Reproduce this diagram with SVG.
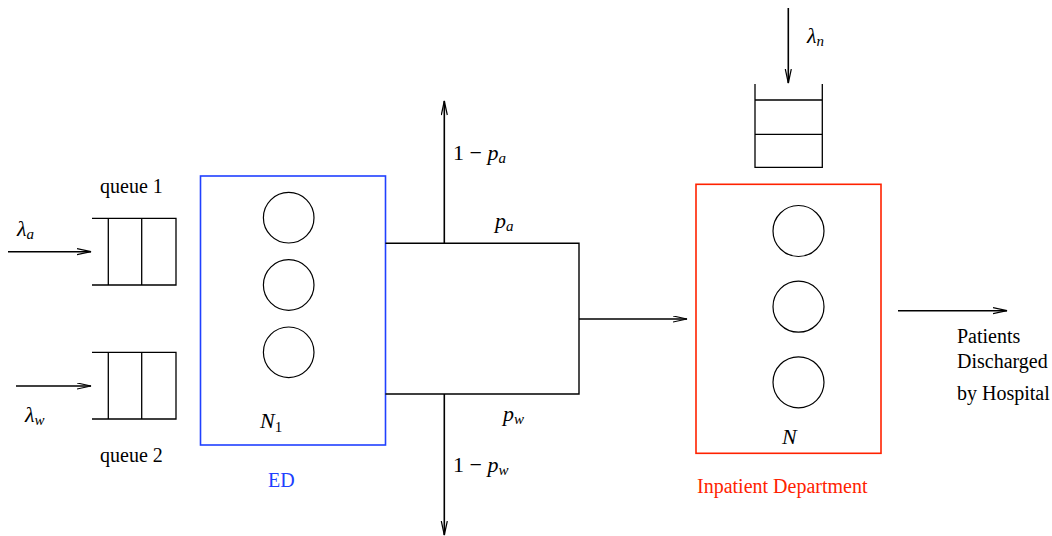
<svg xmlns="http://www.w3.org/2000/svg" width="1052" height="536" viewBox="0 0 1052 536">
<style>
.t{font-family:"Liberation Serif","Times New Roman",serif;font-size:20px;fill:#000}
.m{font-family:"Liberation Serif","Times New Roman",serif;font-size:22px;font-style:italic;fill:#000}
.up{font-style:normal}
.sub{font-size:15px}
.ln{stroke:#000;stroke-width:1.4;fill:none}
.q{stroke:#000;stroke-width:1.3;fill:none}
.srv{stroke:#000;stroke-width:1.2;fill:#fff}
.ar{stroke:#000;stroke-width:1.6;fill:none;marker-end:url(#ah)}
</style>
<defs>
<marker id="ah" markerWidth="16" markerHeight="9" refX="14.5" refY="3.5" orient="auto" markerUnits="userSpaceOnUse">
<path d="M0.5,0.5 L14.5,3.5 L0.5,6.5" fill="none" stroke="#000" stroke-width="1.2"/>
</marker>
</defs>
<rect width="1052" height="536" fill="#fff"/>
<g id="queue1">
<path class="q" d="M92,218.3 H176 V285 H92 M108.3,218.3 V285 M141.7,218.3 V285"/>
<text class="t" x="100" y="193">queue 1</text>
</g>
<g id="queue2">
<path class="q" d="M92,352.3 H176 V419 H92 M108.3,352.3 V419 M141.7,352.3 V419"/>
<text class="t" x="100" y="462">queue 2</text>
</g>
<g id="ED">
<rect x="200.5" y="176" width="185" height="269" fill="none" stroke="#2040ff" stroke-width="1.6"/>
<circle class="srv" cx="288.7" cy="217.7" r="25.3"/>
<circle class="srv" cx="288.7" cy="285" r="25.3"/>
<circle class="srv" cx="288.7" cy="352.3" r="25.3"/>
<text class="m" x="260" y="428">N<tspan class="sub up" dy="4">1</tspan></text>
<text class="t" x="268" y="487" style="fill:#2040ff">ED</text>
</g>
<g id="inpatient-queue">
<path class="q" d="M755,84 V167.3 H822.3 V84 M755,100 H822.3 M755,134.3 H822.3"/>
</g>
<g id="inpatient">
<rect x="696" y="184.3" width="185" height="269" fill="none" stroke="#ff2200" stroke-width="1.6"/>
<circle class="srv" cx="798.5" cy="231" r="25.5"/>
<circle class="srv" cx="798.5" cy="306.7" r="25.5"/>
<circle class="srv" cx="798.5" cy="382.3" r="25.5"/>
<text class="m" x="782" y="444">N</text>
<text class="t" x="697" y="493" style="fill:#ff2200">Inpatient Department</text>
</g>
<g id="discharge">
<text class="t" x="957" y="343">Patients</text>
<text class="t" x="957" y="368">Discharged</text>
<text class="t" x="957" y="400">by Hospital</text>
</g>
<g id="connectors">
<line class="ar" x1="8" y1="251.7" x2="91" y2="251.7"/>
<line class="ar" x1="16" y1="386" x2="91" y2="386"/>
<path class="ln" d="M385.5,243.3 H579 V394 H385.5"/>
<line class="ar" x1="444.3" y1="243.3" x2="444.3" y2="101"/>
<line class="ar" x1="444.3" y1="394" x2="444.3" y2="535"/>
<line class="ar" x1="579" y1="319" x2="687" y2="319"/>
<line class="ar" x1="788.3" y1="8" x2="788.3" y2="83"/>
<line class="ar" x1="898" y1="310.7" x2="1007" y2="310.7"/>
</g>
<g id="labels">
<text class="m" x="17" y="236">λ<tspan class="sub" dy="3">a</tspan></text>
<text class="m" x="25" y="422">λ<tspan class="sub" dy="3">w</tspan></text>
<text class="m" x="807" y="43">λ<tspan class="sub" dy="3">n</tspan></text>
<text class="m" x="453" y="160"><tspan class="up">1 − </tspan>p<tspan class="sub" dy="3">a</tspan></text>
<text class="m" x="495" y="228">p<tspan class="sub" dy="3">a</tspan></text>
<text class="m" x="503" y="421">p<tspan class="sub" dy="3">w</tspan></text>
<text class="m" x="453" y="472"><tspan class="up">1 − </tspan>p<tspan class="sub" dy="3">w</tspan></text>
</g>
</svg>
